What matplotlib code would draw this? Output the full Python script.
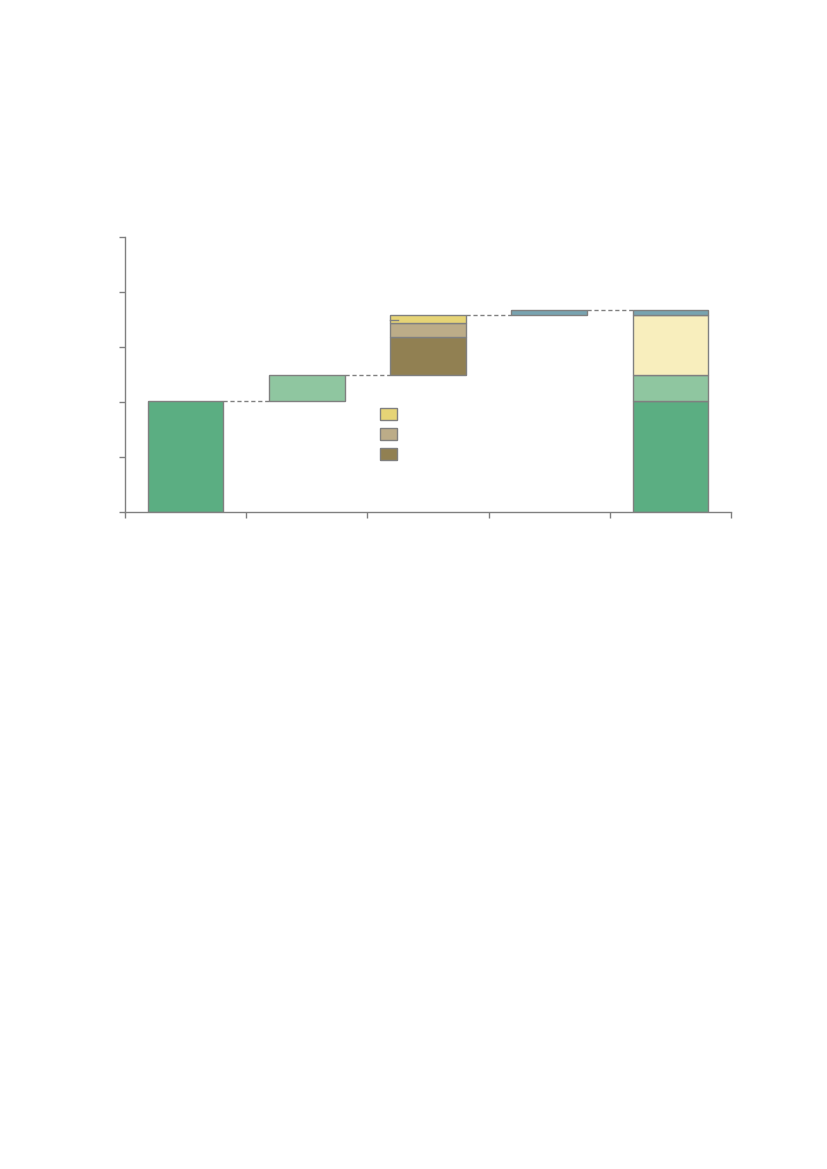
import matplotlib.pyplot as plt
from matplotlib.patches import Patch

# waterfall values (no text in the source picture)
positions = [0, 1, 2, 3, 4]
start_value = 40.4
second_step = 9.6
third_parts = [13.7, 5.1, 2.9]      # dark, tan, yellow (bottom to top)
fourth_step = 1.8
final_parts = [40.4, 9.5, 21.8, 1.8]  # green, light green, pale yellow, blue

y_ticks = [0, 20, 40, 60, 80, 100]
x_ticks = [-0.5, 0.5, 1.5, 2.5, 3.5, 4.5]

c_green = "#5bae82"
c_lgreen = "#8fc6a0"
c_dark = "#918052"
c_tan = "#bcac88"
c_yellow = "#e6d476"
c_blue = "#78a3b0"
c_pale = "#f8eebd"
edge = "#808080"
third_colors = [c_dark, c_tan, c_yellow]
final_colors = [c_green, c_lgreen, c_pale, c_blue]

w = 0.625
fig = plt.figure(figsize=(8.27, 11.69), dpi=100)
ax = fig.add_axes([0.1511, 0.5620, 0.7328, 0.2352])

ax.bar(positions[0], start_value, w, color=c_green, edgecolor=edge, linewidth=1)
ax.bar(positions[1], second_step, w, bottom=start_value, color=c_lgreen,
       edgecolor=edge, linewidth=1)
base = start_value + second_step
for val, col in zip(third_parts, third_colors):
    ax.bar(positions[2], val, w, bottom=base, color=col, edgecolor=edge, linewidth=1)
    base += val
level3 = base
ax.bar(positions[3], fourth_step, w, bottom=level3, color=c_blue,
       edgecolor=edge, linewidth=1)
level4 = level3 + fourth_step
base = 0
for val, col in zip(final_parts, final_colors):
    ax.bar(positions[4], val, w, bottom=base, color=col, edgecolor=edge, linewidth=1)
    base += val

# connector lines
levels = [start_value, start_value + second_step, level3, level4]
for i, lv in enumerate(levels):
    ax.plot([positions[i] + w / 2, positions[i + 1] - w / 2], [lv, lv],
            color=edge, linestyle=(0, (3, 2)), linewidth=1)

# little leader tick inside the third bar
ax.plot([positions[2] - w / 2, positions[2] - w / 2 + 0.066], [69.9, 69.9],
        color=edge, linewidth=1)

ax.set_xlim(-0.5, 4.5)
ax.set_ylim(0, 100)
ax.set_xticks(x_ticks)
ax.set_yticks(y_ticks)
ax.set_xticklabels([])
ax.set_yticklabels([])
ax.tick_params(direction="out", length=4, width=1, color=edge)
for s in ["top", "right"]:
    ax.spines[s].set_visible(False)
for s in ["left", "bottom"]:
    ax.spines[s].set_color(edge)
    ax.spines[s].set_linewidth(1)

handles = [Patch(facecolor=c, edgecolor=edge, linewidth=1)
           for c in [c_yellow, c_tan, c_dark]]
ax.legend(handles, [" ", " ", " "], loc="upper left", bbox_to_anchor=(0.405, 0.414),
          frameon=False, handlelength=1.25, handleheight=0.95, labelspacing=0.42,
          fontsize=10, borderpad=0.2)

fig.savefig("out.png", dpi=100)
